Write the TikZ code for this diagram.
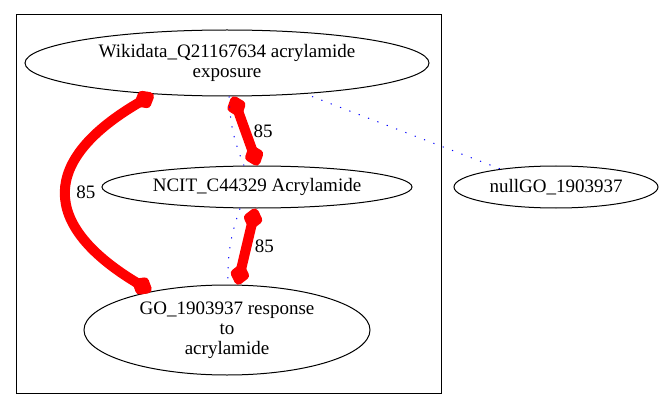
\documentclass[tikz,border=0pt]{standalone}
\usepackage{fontspec}
\setmainfont{Liberation Serif}
\usetikzlibrary{arrows.meta,shapes.geometric}

\tikzset{
  term/.style={ellipse, draw, line width=1pt, inner sep=0pt, align=center},
  link/.style={red, line width=10pt, line cap=round,
    {Diamond[length=26pt,width=21pt,round]}-{Diamond[length=26pt,width=21pt,round]}},
  weight/.style={black, right},
  xref/.style={blue, line width=1pt, dash pattern=on 1.2pt off 8.8pt},
}

\begin{document}
\begin{tikzpicture}[x=1pt, y=-1pt, font=\fontsize{19}{20}\selectfont]
    \useasboundingbox (0,0) rectangle (664,409);

    % Cluster frame
    \draw[line width=1pt] (16,15) rectangle (441,393);

    % Define terms
    \node[term, minimum width=404pt, minimum height=66pt] (wd) at (227,63) {Wikidata\_Q21167634 acrylamide\\exposure};
    \node[term, minimum width=310pt, minimum height=42pt] (nc) at (257,187) {NCIT\_C44329 Acrylamide};
    \node[term, minimum width=286pt, minimum height=90pt] (go) at (227,330) {GO\_1903937 response\\to\\acrylamide};
    \node[term, minimum width=204pt, minimum height=42pt] (null) at (556,187) {nullGO\_1903937};

    % Weighted links
    \draw[link] (wd.-157) .. controls (40,160) and (40,225) .. node[weight] {85} (go.153);
    \draw[link] (wd.-80) -- node[weight] {85} (nc.88);
    \draw[link] (nc.-94) -- node[weight] {85} (go.77);

    % Cross references
    \draw[xref] ([xshift=2pt]wd.south) to[bend right=10] ([xshift=-13pt]nc.north);
    \draw[xref] ([xshift=-17pt]nc.south) to[bend right=10] ([xshift=1pt]go.north);
    \draw[xref] ([xshift=85pt]wd.south) -- (null.162);
\end{tikzpicture}
\end{document}
